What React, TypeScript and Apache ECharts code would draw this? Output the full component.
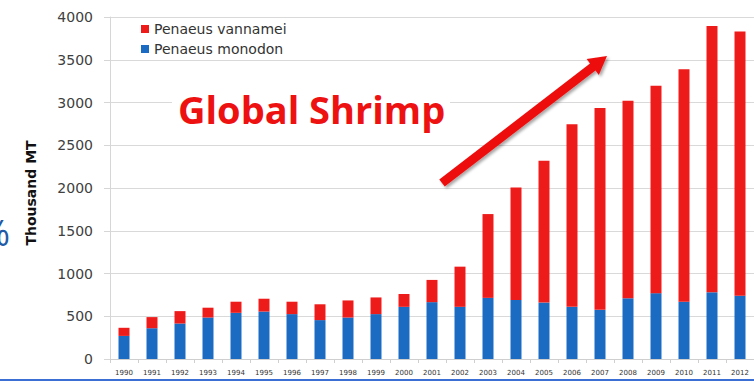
import React, { useEffect, useRef } from "react";
import * as echarts from "echarts";

const years = [
  "1990", "1991", "1992", "1993", "1994", "1995", "1996", "1997", "1998", "1999", "2000",
  "2001", "2002", "2003", "2004", "2005", "2006", "2007", "2008", "2009", "2010", "2011", "2012",
];
const monodon = [270, 360, 415, 485, 540, 555, 525, 455, 485, 525, 610, 665, 610, 715, 690, 660, 610, 575, 710, 770, 670, 780, 740];
const vannamei = [95, 130, 145, 115, 130, 150, 145, 185, 200, 195, 150, 260, 470, 980, 1315, 1660, 2135, 2360, 2310, 2425, 2720, 3115, 3090];
const yTicks = { min: 0, max: 4000, interval: 500 };
const seriesNames = ["Penaeus vannamei", "Penaeus monodon"];
const RED = "#ee1b1b";
const BLUE = "#1a6bc1";

// decorative arrow geometry (pixels)
function arrowPoints(tx: number, ty: number, hx: number, hy: number, sw: number, hw: number, hl: number) {
  const dx = hx - tx, dy = hy - ty;
  const L = Math.sqrt(dx * dx + dy * dy);
  const ux = dx / L, uy = dy / L;
  const nx = -uy, ny = ux;
  const bx = hx - hl * ux, by = hy - hl * uy;
  return [
    [tx + sw * nx, ty + sw * ny],
    [bx + sw * nx, by + sw * ny],
    [bx + hw * nx, by + hw * ny],
    [hx, hy],
    [bx - hw * nx, by - hw * ny],
    [bx - sw * nx, by - sw * ny],
    [tx - sw * nx, ty - sw * ny],
  ];
}

export default function App() {
  const ref = useRef<HTMLDivElement>(null);
  useEffect(() => {
    if (!ref.current) return;
    const chart = echarts.init(ref.current, null, { renderer: "svg" });
    chart.setOption({
      animation: false,
      backgroundColor: "#ffffff",
      grid: { left: 110, right: -9, top: 17, bottom: 26, containLabel: false },
      legend: {
        data: seriesNames,
        orient: "vertical",
        left: 136,
        top: 17,
        itemWidth: 8,
        itemHeight: 8,
        itemGap: 6,
        icon: "rect",
        textStyle: {
          fontFamily: "DejaVu Sans",
          fontSize: 14,
          color: "#333333",
          lineHeight: 14,
        },
      },
      xAxis: {
        type: "category",
        data: years,
        axisLine: { lineStyle: { color: "#cfcfcf" } },
        axisTick: { show: true, length: 4, lineStyle: { color: "#cfcfcf" } },
        axisLabel: {
          interval: 0,
          fontFamily: "DejaVu Sans",
          fontSize: 7,
          color: "#333333",
          margin: 10,
        },
      },
      yAxis: {
        type: "value",
        min: yTicks.min,
        max: yTicks.max,
        interval: yTicks.interval,
        axisLine: { show: true, lineStyle: { color: "#d6d6d6" } },
        axisTick: { show: true, length: 6, lineStyle: { color: "#d6d6d6" } },
        splitLine: { lineStyle: { color: "#d9d9d9" } },
        axisLabel: {
          fontFamily: "DejaVu Sans",
          fontSize: 14,
          color: "#404040",
          margin: 17,
          formatter: (v: number) => String(v),
        },
      },
      series: [
        {
          name: seriesNames[1],
          type: "bar",
          stack: "total",
          data: monodon,
          barWidth: 11,
          itemStyle: { color: BLUE },
        },
        {
          name: seriesNames[0],
          type: "bar",
          stack: "total",
          data: vannamei,
          barWidth: 11,
          itemStyle: { color: RED },
        },
      ],
      graphic: [
        {
          type: "rect",
          shape: { x: 172, y: 88, width: 278, height: 48 },
          style: { fill: "#ffffff" },
          z: 10,
        },
        {
          type: "text",
          x: 178,
          y: 109,
          z: 11,
          style: {
            text: "Global Shrimp",
            fontFamily: "Open Sans",
            fontWeight: "bold",
            fontSize: 38,
            fill: "#ee1111",
            verticalAlign: "middle",
            align: "left",
          },
        },
        {
          type: "polygon",
          z: 12,
          shape: { points: arrowPoints(442, 183, 607, 56, 4.5, 10, 18) },
          style: {
            fill: "#ee1111",
            shadowBlur: 3,
            shadowColor: "rgba(0,0,0,0.35)",
            shadowOffsetX: 2,
            shadowOffsetY: 2,
          },
        },
        {
          type: "text",
          x: 31,
          y: 193,
          rotation: Math.PI / 2,
          style: {
            text: "Thousand MT",
            fontFamily: "DejaVu Sans",
            fontWeight: "bold",
            fontSize: 14,
            fill: "#111111",
            align: "center",
            verticalAlign: "middle",
          },
        },
        {
          type: "text",
          x: 10,
          y: 232,
          style: {
            text: "%",
            fontFamily: "Open Sans",
            fontSize: 36,
            fill: "#1f5ba6",
            align: "right",
            verticalAlign: "middle",
          },
        },
        {
          type: "line",
          shape: { x1: 0, y1: 380, x2: 754, y2: 380 },
          style: { stroke: "#3c6fd4", lineWidth: 2 },
        },
      ],
    });
    return () => chart.dispose();
  }, []);
  return (
    <div
      ref={ref}
      style={{ position: "absolute", left: 0, top: 0, width: 754, height: 385, overflow: "hidden" }}
    />
  );
}
